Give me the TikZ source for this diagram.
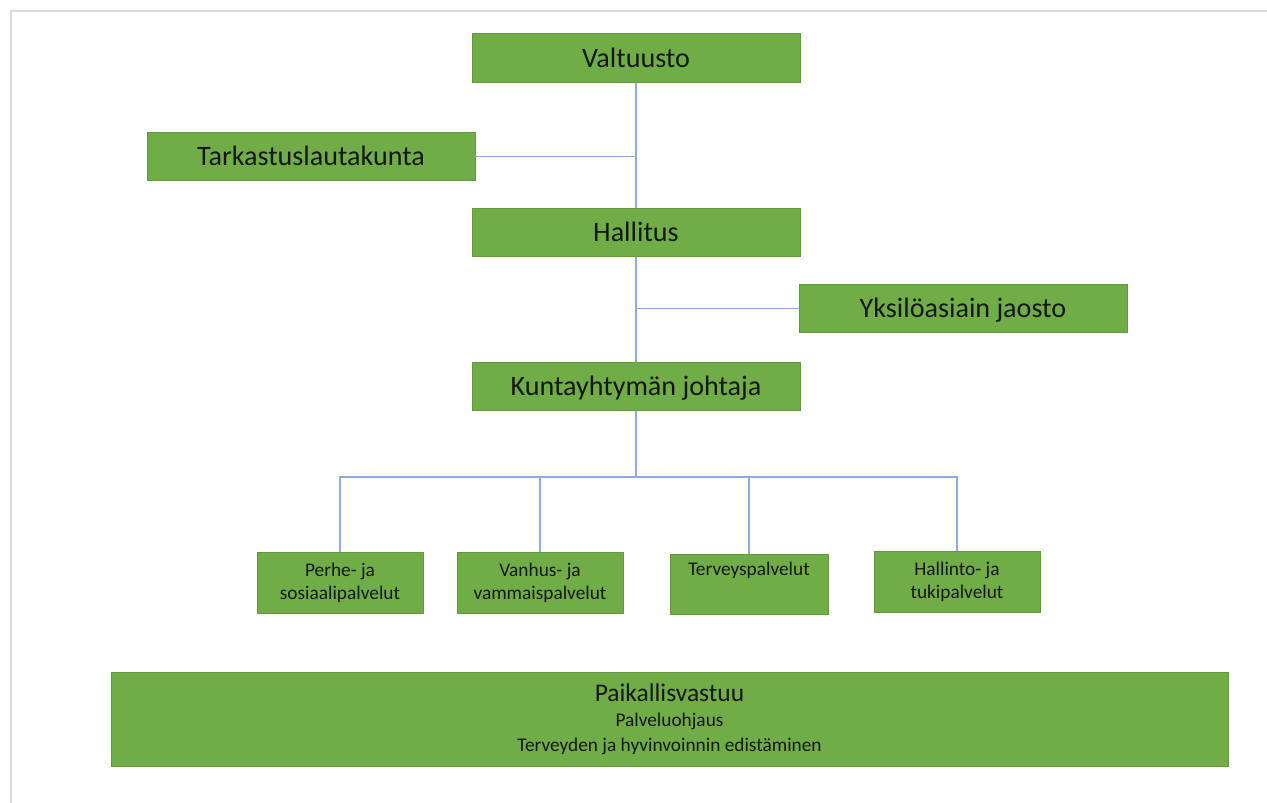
\documentclass[tikz,border=0pt]{standalone}
\usepackage{fontspec}
\setmainfont{Carlito}
\usepackage{xcolor}
\usepackage{tikz}
\usetikzlibrary{positioning}
\definecolor{orggreen}{RGB}{112,173,71}
\definecolor{orgedge}{RGB}{98,152,64}
\definecolor{linkblue}{RGB}{143,170,220}
\definecolor{inkdark}{RGB}{22,22,22}
\definecolor{framegray}{RGB}{218,218,218}
\tikzset{
  orgbox/.style={draw=orgedge, fill=orggreen, line width=0.4pt, text=inkdark,
                 align=center, inner sep=0pt, minimum width=6.56cm,
                 minimum height=0.97cm, text height=14.4pt, text depth=4.1pt,
                 font=\fontsize{16}{19}\selectfont},
  smallorg/.style={orgbox, minimum width=3.32cm, minimum height=1.22cm,
                   text height=, text depth=,
                   font=\fontsize{11}{13.1}\selectfont},
  widebox/.style={smallorg, minimum width=22.34cm, minimum height=1.88cm,
                  font=\fontsize{11}{14.2}\selectfont},
  link/.style={draw=linkblue, line width=0.9pt}
}

\begin{document}
\begin{tikzpicture}
  \useasboundingbox (0,0) rectangle (25.34,-16.06);
  \draw[framegray, line width=1pt] (0.22,-16.06) -- (0.22,-0.22) -- (25.34,-0.22);
  % upper chain
  \node[orgbox] (valt) at (12.72,-1.16) {Valtuusto};
  \node[orgbox] (tark) at (6.22,-3.13) {Tarkastuslautakunta};
  \node[orgbox, below=2.5cm of valt] (hall) {Hallitus};
  \node[orgbox] (yks) at (19.26,-6.17) {Yksilöasiain jaosto};
  \node[orgbox, below=2.1cm of hall] (kj) {Kuntayhtymän johtaja};
  % service areas
  \node[smallorg] (perhe) at (6.80,-11.65) {Perhe- ja\\sosiaalipalvelut};
  \node[smallorg] (vanhus) at (10.80,-11.65) {Vanhus- ja\\vammaispalvelut};
  \node[smallorg, minimum width=3.16cm, minimum height=1.2cm] (terv) at (14.98,-11.68) {Terveyspalvelut\\\strut};
  \node[smallorg] (hallinto) at (19.14,-11.64) {Hallinto- ja\\tukipalvelut};
  \node[widebox] (paik) at (13.39,-14.38)
    {{\fontsize{14.5}{14.2}\selectfont Paikallisvastuu}\\Palveluohjaus\\Terveyden ja hyvinvoinnin edistäminen};
  % connectors
  \draw[link] (valt) -- (hall);
  \draw[link] (hall) -- (kj);
  \draw[link] (tark.east) -- (tark.east -| valt.south);
  \draw[link] (yks.west) -- (yks.west -| hall.south);
  \draw[link] (kj.south) -- ++(0,-1.32) coordinate (bus);
  \foreach \n in {perhe,vanhus,terv,hallinto}
    \draw[link] (bus) -| (\n.north);
\end{tikzpicture}
\end{document}
